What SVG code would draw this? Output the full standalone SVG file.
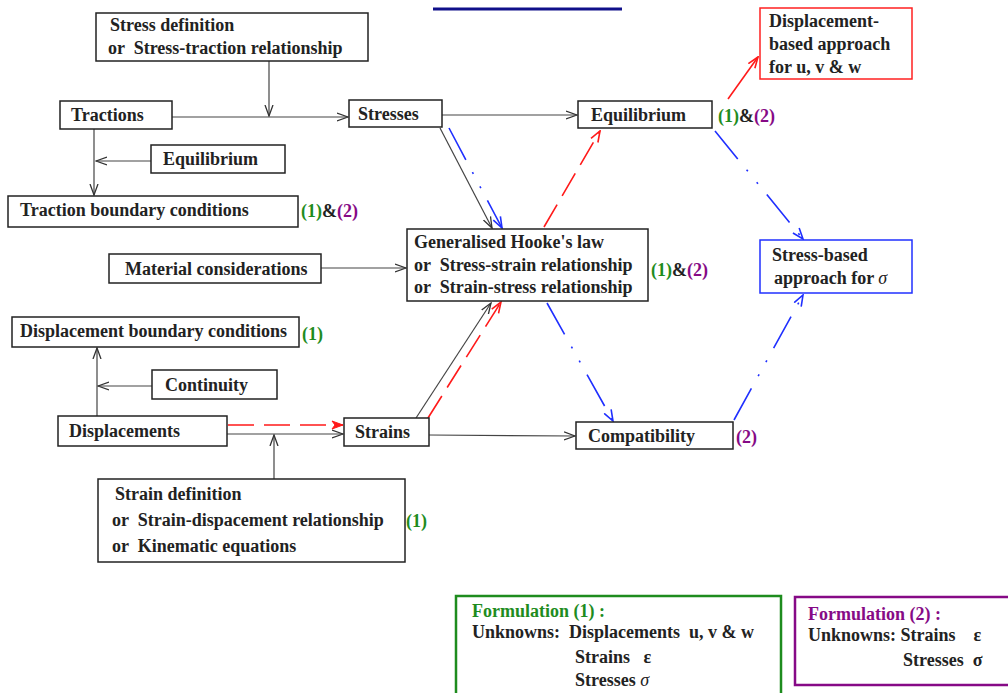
<svg xmlns="http://www.w3.org/2000/svg" width="1008" height="693" viewBox="0 0 1008 693">
<style>
.box{fill:#fff;stroke:#222;stroke-width:1.5}
.t{font-family:"Liberation Serif","Times New Roman",serif;font-size:18px;font-weight:bold;fill:#222;white-space:pre}
.g{fill:#1e8c1e}
.p{fill:#860a86}
.c{fill:none;stroke:#444;stroke-width:1.2}
.r{fill:none;stroke:#ff1a1a;stroke-width:1.6}
.b{fill:none;stroke:#1f2fff;stroke-width:1.6}
.rd{stroke-dasharray:26 10}
.bd{stroke-dasharray:36 14 2 14 2 14}
</style>
<defs>
<marker id="ak" viewBox="0 0 12 10" refX="11" refY="5" markerWidth="12" markerHeight="10" markerUnits="userSpaceOnUse" orient="auto"><path d="M0,1 L11,5 L0,9" fill="none" stroke="#333" stroke-width="1.3"/></marker>
<marker id="ar" viewBox="0 0 12 10" refX="11" refY="5" markerWidth="13" markerHeight="10" markerUnits="userSpaceOnUse" orient="auto"><path d="M0,1 L11,5 L0,9" fill="none" stroke="#ff1a1a" stroke-width="1.6"/></marker>
<marker id="arf" viewBox="0 0 12 10" refX="11" refY="5" markerWidth="14" markerHeight="10" markerUnits="userSpaceOnUse" orient="auto"><path d="M0,1 L11,5 L0,9 L3,5 Z" fill="#ff1a1a" stroke="#ff1a1a" stroke-width="1"/></marker>
<marker id="ab" viewBox="0 0 12 10" refX="11" refY="5" markerWidth="13" markerHeight="10" markerUnits="userSpaceOnUse" orient="auto"><path d="M0,1 L11,5 L0,9" fill="none" stroke="#1f2fff" stroke-width="1.6"/></marker>
</defs>

<line x1="433" y1="9" x2="622" y2="9" stroke="#10108a" stroke-width="3"/>

<g id="connectors">
<line class="c" x1="172" y1="117" x2="348" y2="117" marker-end="url(#ak)"/>
<line class="c" x1="269" y1="61" x2="269" y2="116" marker-end="url(#ak)"/>
<line class="c" x1="151" y1="161" x2="96" y2="161" marker-end="url(#ak)"/>
<line class="c" x1="94" y1="129" x2="94" y2="195" marker-end="url(#ak)"/>
<line class="c" x1="442" y1="115" x2="577" y2="115" marker-end="url(#ak)"/>
<line class="c" x1="440" y1="128" x2="492" y2="228" marker-end="url(#ak)"/>
<line class="b bd" x1="449" y1="128" x2="502" y2="228" marker-end="url(#ab)"/>
<line class="r rd" x1="544" y1="227" x2="600" y2="131" marker-end="url(#ar)"/>
<line class="r" x1="728" y1="99" x2="758" y2="57" marker-end="url(#ar)"/>
<line class="b bd" x1="715" y1="131" x2="803" y2="239" marker-end="url(#ab)"/>
<line class="c" x1="321" y1="268" x2="406" y2="268" marker-end="url(#ak)"/>
<line class="c" x1="97" y1="416" x2="97" y2="348" marker-end="url(#ak)"/>
<line class="c" x1="152" y1="386" x2="98" y2="386" marker-end="url(#ak)"/>
<line class="c" x1="227" y1="434" x2="343" y2="434" marker-end="url(#ak)"/>
<line class="r rd" x1="228" y1="425" x2="343" y2="425" marker-end="url(#arf)"/>
<line class="c" x1="274" y1="479" x2="274" y2="435" marker-end="url(#ak)"/>
<line class="c" x1="416" y1="418" x2="491" y2="303" marker-end="url(#ak)"/>
<line class="r rd" x1="428" y1="418" x2="501" y2="302" marker-end="url(#ar)"/>
<line class="c" x1="429" y1="435" x2="575" y2="436" marker-end="url(#ak)"/>
<line class="b bd" x1="547" y1="303" x2="613" y2="421" marker-end="url(#ab)"/>
<line class="b bd" x1="734" y1="420" x2="803" y2="295" marker-end="url(#ab)"/>
</g>

<g id="stress-definition">
<rect class="box" x="96" y="13" width="272" height="48"/>
<text class="t" x="110" y="31">Stress definition</text>
<text class="t" x="108" y="54">or  Stress-traction relationship</text>
</g>
<g id="tractions">
<rect class="box" x="60" y="101" width="112" height="28"/>
<text class="t" x="71" y="121">Tractions</text>
</g>
<g id="stresses">
<rect class="box" x="349" y="100" width="93" height="27"/>
<text class="t" x="358" y="120">Stresses</text>
</g>
<g id="equilibrium-right">
<rect class="box" x="578" y="101" width="134" height="27"/>
<text class="t" x="591" y="121">Equilibrium</text>
<text class="t" x="718" y="122"><tspan class="g">(1)</tspan>&amp;<tspan class="p">(2)</tspan></text>
</g>
<g id="displacement-approach">
<rect x="760" y="8" width="152" height="71" fill="#fff" stroke="#ff2020" stroke-width="1.5"/>
<text class="t" x="769" y="27">Displacement-</text>
<text class="t" x="769" y="50">based approach</text>
<text class="t" x="769" y="73">for u, v &amp; w</text>
</g>
<g id="equilibrium-left">
<rect class="box" x="151" y="145" width="134" height="28"/>
<text class="t" x="163" y="165">Equilibrium</text>
</g>
<g id="traction-bc">
<rect class="box" x="8" y="196" width="290" height="31"/>
<text class="t" x="20" y="216">Traction boundary conditions</text>
<text class="t" x="301" y="217"><tspan class="g">(1)</tspan>&amp;<tspan class="p">(2)</tspan></text>
</g>
<g id="hooke">
<rect class="box" x="407" y="229" width="241" height="72"/>
<text class="t" x="414" y="248">Generalised Hooke's law</text>
<text class="t" x="414" y="271">or  Stress-strain relationship</text>
<text class="t" x="414" y="293">or  Strain-stress relationship</text>
<text class="t" x="651" y="276"><tspan class="g">(1)</tspan>&amp;<tspan class="p">(2)</tspan></text>
</g>
<g id="material">
<rect class="box" x="109" y="254" width="212" height="29"/>
<text class="t" x="125" y="275">Material considerations</text>
</g>
<g id="stress-approach">
<rect x="760" y="240" width="152" height="53" fill="#fff" stroke="#2030ff" stroke-width="1.5"/>
<text class="t" x="772" y="261">Stress-based</text>
<text class="t" x="774" y="284">approach for <tspan font-style="italic" font-weight="normal">σ</tspan></text>
</g>
<g id="displacement-bc">
<rect class="box" x="12" y="317" width="287" height="30"/>
<text class="t" x="20" y="337">Displacement boundary conditions</text>
<text class="t g" x="302" y="340">(1)</text>
</g>
<g id="continuity">
<rect class="box" x="152" y="370" width="125" height="29"/>
<text class="t" x="165" y="391">Continuity</text>
</g>
<g id="displacements">
<rect class="box" x="58" y="416" width="169" height="30"/>
<text class="t" x="69" y="437">Displacements</text>
</g>
<g id="strains">
<rect class="box" x="344" y="418" width="85" height="28"/>
<text class="t" x="355" y="438">Strains</text>
</g>
<g id="compatibility">
<rect class="box" x="576" y="422" width="157" height="27"/>
<text class="t" x="588" y="442">Compatibility</text>
<text class="t p" x="736" y="443">(2)</text>
</g>
<g id="strain-definition">
<rect class="box" x="98" y="479" width="307" height="83"/>
<text class="t" x="115" y="500">Strain definition</text>
<text class="t" x="112" y="526">or  Strain-dispacement relationship</text>
<text class="t" x="112" y="552">or  Kinematic equations</text>
<text class="t g" x="406" y="527">(1)</text>
</g>
<g id="formulation-1">
<rect x="456" y="596" width="325" height="104" fill="#fff" stroke="#1e8c1e" stroke-width="2.5"/>
<text class="t g" x="472" y="617">Formulation (1) :</text>
<text class="t" x="472" y="638">Unknowns:  Displacements  u, v &amp; w</text>
<text class="t" x="575" y="663">Strains   ε</text>
<text class="t" x="575" y="686">Stresses <tspan font-style="italic" font-weight="normal">σ</tspan></text>
</g>
<g id="formulation-2">
<rect x="795" y="597" width="220" height="88" fill="#fff" stroke="#860a86" stroke-width="2.5"/>
<text class="t p" x="808" y="620">Formulation (2) :</text>
<text class="t" x="808" y="641">Unknowns: Strains    ε</text>
<text class="t" x="903" y="666">Stresses  σ</text>
</g>
</svg>
